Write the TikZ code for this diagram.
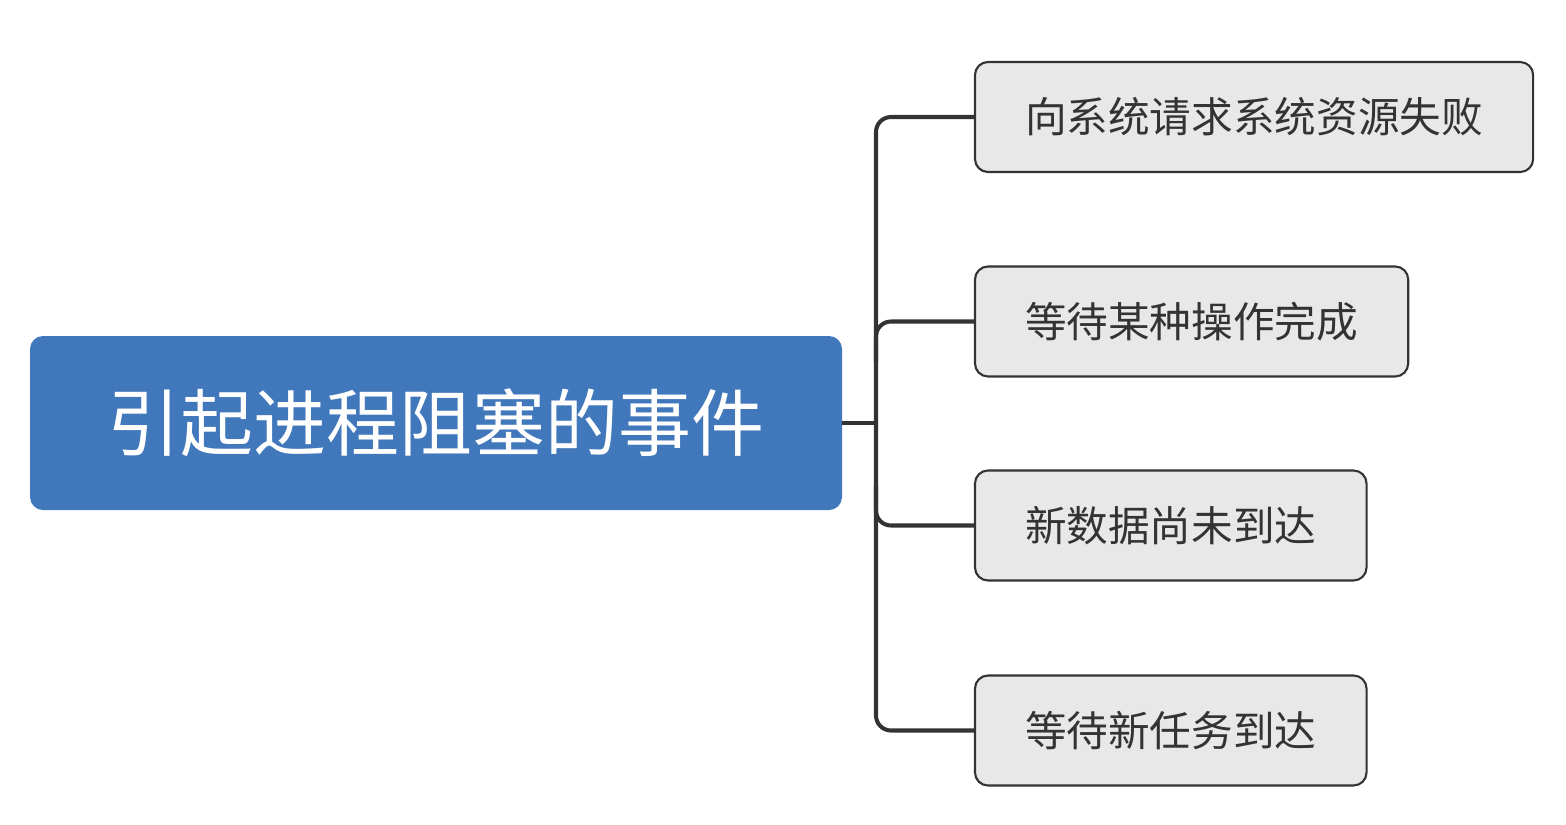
\documentclass[tikz,border=0pt]{standalone}
\usepackage{fontspec}
\newfontfamily\cjk{Noto Sans CJK SC}
\usetikzlibrary{positioning}
\definecolor{rootblue}{HTML}{4178BC}
\definecolor{boxgray}{HTML}{E8E8E8}
\definecolor{inkgray}{HTML}{333333}

\begin{document}
\begin{tikzpicture}[
	rootbox/.style={draw=none, fill=rootblue, rounded corners=0.26cm, minimum width=16.24cm, minimum height=3.48cm, text=white, font=\cjk\fontsize{41.5pt}{48pt}\selectfont},
	leaf/.style={draw=inkgray, line width=1.2pt, fill=boxgray, rounded corners=0.26cm, minimum height=2.2cm, inner xsep=1cm, outer sep=0pt, anchor=west, text=inkgray, font=\cjk\fontsize{23.7pt}{28pt}\selectfont},
	conn/.style={draw=inkgray, line width=2.3pt, rounded corners=0.3cm}]
	\useasboundingbox (0,0) rectangle (31.32,-16.48);
	\node[rootbox] (root) at (8.72,-8.46) {引起进程阻塞的事件};
	\node[leaf] (c1) at (19.5,-2.34) {向系统请求系统资源失败};
	\node[leaf] (c2) at (19.5,-6.43) {等待某种操作完成};
	\node[leaf] (c3) at (19.5,-10.51) {新数据尚未到达};
	\node[leaf] (c4) at (19.5,-14.61) {等待新任务到达};
	\coordinate (trunk) at (17.52,0);
	% branches
	\draw[conn] (c1.west) -| (c4.west -| trunk) -- (c4.west);
	\draw[conn] (c2.west) -| ([yshift=-0.8cm]c2.west -| trunk);
	\draw[conn] (c3.west) -| ([yshift=0.8cm]c3.west -| trunk);
	\draw[conn] (root.east) -- (root.east -| trunk);
\end{tikzpicture}
\end{document}
